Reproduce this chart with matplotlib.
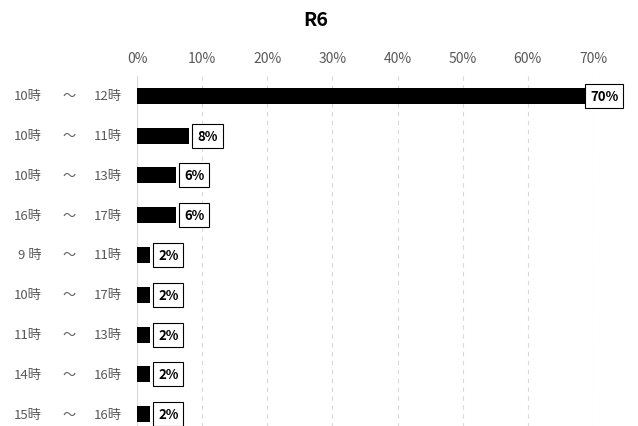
import matplotlib
matplotlib.use("Agg")
import matplotlib.pyplot as plt
from matplotlib.transforms import blended_transform_factory

plt.rcParams['font.family'] = ['Noto Sans CJK JP', 'DejaVu Sans']

start_labels = ["10時", "10時", "10時", "16時", "9 時", "10時", "11時", "14時", "15時"]
end_labels = ["12時", "11時", "13時", "17時", "11時", "17時", "13時", "16時", "16時"]
values = [0.70, 0.08, 0.06, 0.06, 0.02, 0.02, 0.02, 0.02, 0.02]
xticks = [0, 0.1, 0.2, 0.3, 0.4, 0.5, 0.6, 0.7]
title = "R6"

W, H = 638, 427
fig = plt.figure(figsize=(W/100, H/100), dpi=100)
left, right = 137, 593
top, bottom = 77, 435
ax = fig.add_axes([left/W, 1-bottom/H, (right-left)/W, (bottom-top)/H])

y = list(range(len(values)))
ax.barh(y, values, height=0.4, color='black', zorder=3)
ax.set_ylim(len(values)-0.5, -0.5)
ax.set_xlim(0, 0.7)
ax.set_xticks(xticks)
ax.set_xticklabels([f"{int(round(t*100))}%" for t in xticks], color='#595959', fontsize=10)
ax.xaxis.tick_top()
ax.tick_params(axis='x', length=0, pad=8)
ax.set_yticks([])
for s in ['top', 'right', 'bottom']:
    ax.spines[s].set_visible(False)
ax.spines['left'].set_color('#d9d9d9')
ax.grid(axis='x', color='#d9d9d9', linestyle=(0, (4, 4)), linewidth=0.8, zorder=0)
ax.set_axisbelow(True)

tr = blended_transform_factory(fig.transFigure, ax.transData)
px_per_unit = (right - left) / 0.7
max_box_right = 622
box_w = 37
label_fs = 9.5
pad = 0.38
pad_px = pad * label_fs * 100 / 72
for i in y:
    ax.text(42/W, i, start_labels[i], transform=tr, ha='right', va='center', color='#595959', fontsize=9.5)
    ax.text(69/W, i, "～", transform=tr, ha='center', va='center', color='#595959', fontsize=9.5)
    ax.text(122/W, i, end_labels[i], transform=tr, ha='right', va='center', color='#595959', fontsize=9.5)
    bar_end_px = left + values[i] * px_per_unit
    box_left = bar_end_px + 3
    if box_left + box_w > max_box_right:
        box_left = max_box_right - box_w
    offset_px = box_left + pad_px - bar_end_px
    ax.annotate(f"{int(round(values[i]*100))}%", xy=(values[i], i), xytext=(offset_px * 0.72, 0),
                textcoords='offset points',
                ha='left', va='center', fontsize=label_fs, fontweight='bold', color='black', zorder=5,
                bbox=dict(boxstyle=f'square,pad={pad}', facecolor='white', edgecolor='black', linewidth=0.8),
                annotation_clip=False)

fig.text(316/W, 1-20/H, title, ha='center', va='center', fontsize=14, fontweight='bold')

fig.savefig("out.png", dpi=100)
